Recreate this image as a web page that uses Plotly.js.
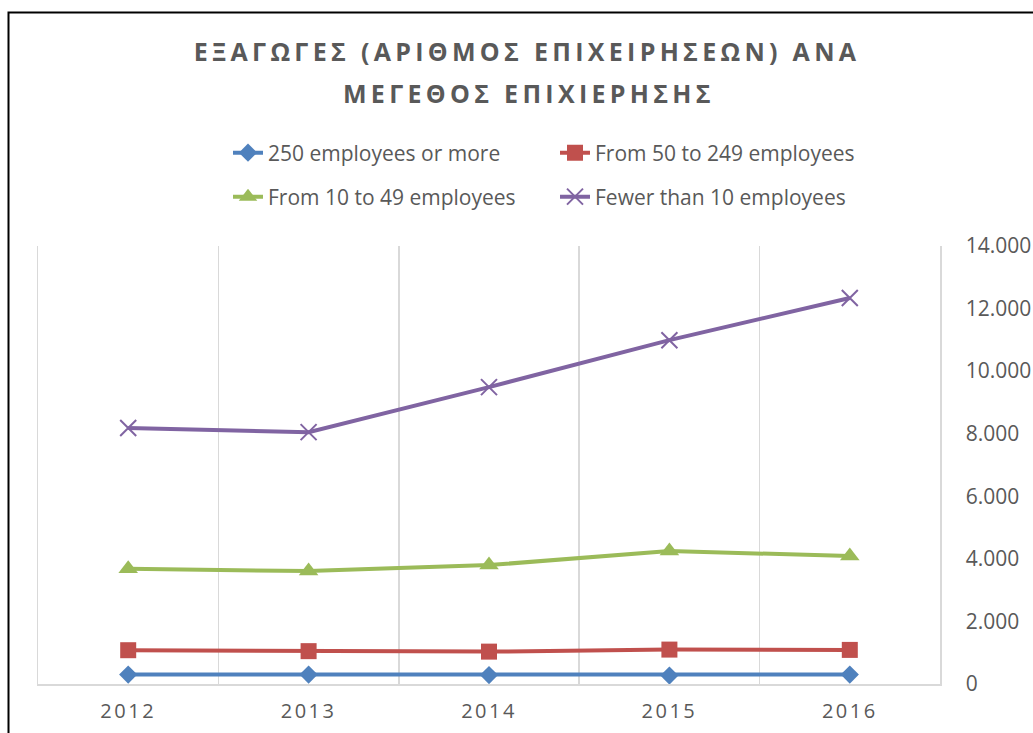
<!DOCTYPE html>
<html>
<head>
<meta charset="utf-8">
<script src="https://cdn.plot.ly/plotly-3.0.1.min.js"></script>
<style>
  html, body { margin: 0; padding: 0; background: #ffffff; overflow: hidden; }
  #chart { width: 1033px; height: 733px; }
</style>
</head>
<body>
<div id="chart"></div>
<script>
// ---- data ----
const years = ["2012", "2013", "2014", "2015", "2016"];
const seriesNames = [
  "250 employees or more",
  "From 50 to 249 employees",
  "From 10 to 49 employees",
  "Fewer than 10 employees"
];
const large = [300, 300, 285, 270, 300];
const medium = [1080, 1050, 1035, 1100, 1090];
const small = [3680, 3610, 3800, 4250, 4090];
const micro = [8180, 8050, 9490, 10990, 12340];
const yTicks = [0, 2000, 4000, 6000, 8000, 10000, 12000, 14000];
const titleLine1 = "ΕΞΑΓΩΓΕΣ (ΑΡΙΘΜΟΣ ΕΠΙΧΕΙΡΗΣΕΩΝ) ΑΝΑ";
const titleLine2 = "ΜΕΓΕΘΟΣ ΕΠΙΧΙΕΡΗΣΗΣ";

// ---- styling ----
const colors = ["#4F81BD", "#C0504D", "#9BBB59", "#8064A2"];
const textColor = "#595959";
const gridColor = "#D9D9D9";
const font = "'Open Sans', 'DejaVu Sans', sans-serif";

const W = 1033, H = 733;
const M = { l: 38, r: 93, t: 246, b: 49 };
const PW = W - M.l - M.r, PH = H - M.t - M.b;
const px2x = p => (p - M.l) / PW;
const py2y = p => 1 - (p - M.t) / PH;

function spaced(s, sp) {
  return '<span style="letter-spacing:' + sp + 'px">' + s + '</span>';
}

const traces = [
  { y: large, name: seriesNames[0], legend: "legend",
    marker: { symbol: "diamond", size: 14, color: colors[0] } },
  { y: medium, name: seriesNames[1], legend: "legend",
    marker: { symbol: "square", size: 16, color: colors[1] } },
  { y: small, name: seriesNames[2], legend: "legend2",
    marker: { symbol: "triangle-up", size: 17, color: colors[2] } },
  { y: micro, name: seriesNames[3], legend: "legend2",
    marker: { symbol: "x-thin-open", size: 16, color: colors[3],
              line: { color: colors[3], width: 2 } } }
].map((t, i) => Object.assign({
  type: "scatter",
  mode: "lines+markers",
  x: years,
  line: { color: colors[i], width: 4 },
  hoverinfo: "x+y+name"
}, t));

const legendCommon = {
  orientation: "h",
  xref: "container", yref: "container",
  xanchor: "left", yanchor: "middle",
  entrywidth: 282, entrywidthmode: "pixels",
  font: { family: font, size: 21, color: textColor },
  bgcolor: "rgba(0,0,0,0)",
  borderwidth: 0,
  traceorder: "normal"
};

const layout = {
  width: W, height: H,
  margin: M,
  paper_bgcolor: "#ffffff",
  plot_bgcolor: "#ffffff",
  separators: ",.",
  showlegend: true,
  font: { family: font, color: textColor },
  title: {
    text: spaced(titleLine1, 4.3),
    font: { family: font, size: 25, color: textColor, weight: 700 },
    xref: "container", yref: "container",
    x: 527 / W, xanchor: "center",
    y: 1 - 52 / H, yanchor: "middle"
  },
  annotations: [{
    text: spaced(titleLine2, 4.3),
    font: { family: font, size: 25, color: textColor, weight: 700 },
    xref: "paper", yref: "paper",
    x: px2x(529), y: py2y(93),
    xanchor: "center", yanchor: "middle",
    showarrow: false
  }],
  legend: Object.assign({}, legendCommon, { x: 228 / W, y: 1 - 153 / H }),
  legend2: Object.assign({}, legendCommon, { x: 228 / W, y: 1 - 197 / H }),
  xaxis: {
    type: "category",
    range: [-0.5, 4.5],
    tickson: "boundaries",
    showgrid: true, gridcolor: gridColor, gridwidth: 1.5,
    showline: true, linecolor: gridColor, linewidth: 1.5,
    ticks: "",
    tickvals: years,
    ticktext: years.map(y => spaced(y, 2.5)),
    ticklabelstandoff: 8,
    tickfont: { family: font, size: 20, color: textColor },
    zeroline: false,
    fixedrange: true
  },
  yaxis: {
    side: "right",
    range: [0, 14000],
    tickvals: yTicks,
    tickformat: ",d",
    showgrid: false,
    showline: true, mirror: true, linecolor: gridColor, linewidth: 1.5,
    zeroline: false,
    ticks: "",
    ticklabelstandoff: 20,
    tickfont: { family: font, size: 21, color: textColor },
    fixedrange: true
  },
  shapes: [{
    type: "rect", xref: "paper", yref: "paper",
    x0: px2x(8.5), x1: px2x(1100),
    y0: py2y(800), y1: py2y(12.5),
    line: { color: "#000000", width: 2 },
    fillcolor: "rgba(0,0,0,0)",
    layer: "above"
  }]
};

Plotly.newPlot("chart", traces, layout, { displayModeBar: false, staticPlot: true });
</script>
</body>
</html>
